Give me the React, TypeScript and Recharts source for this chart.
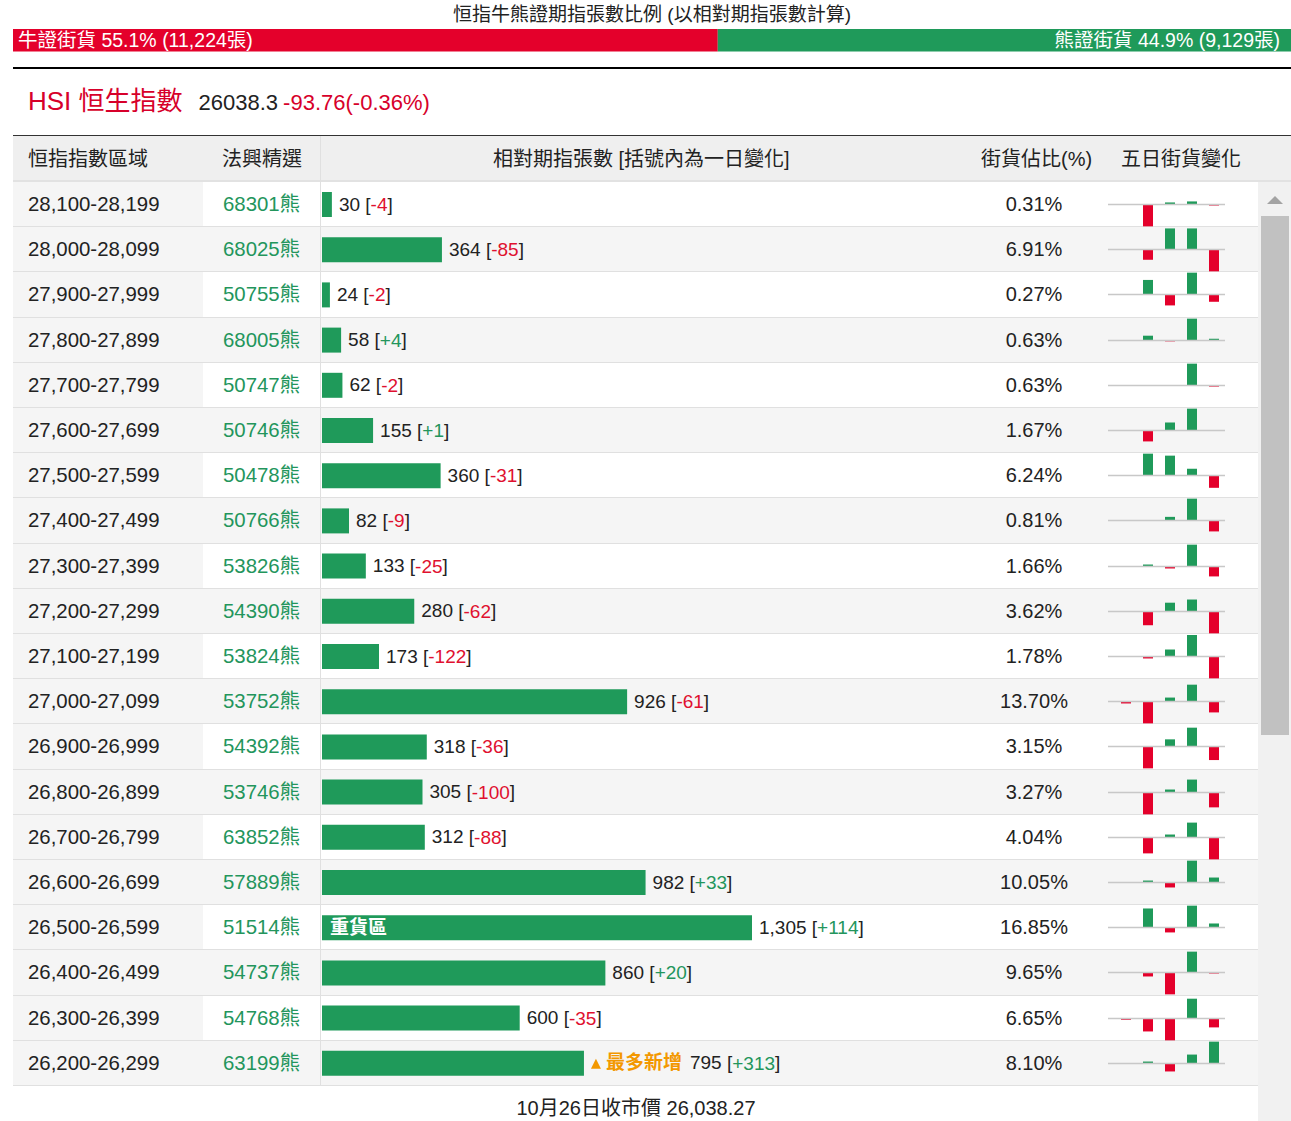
import React from "react";
import { BarChart, Bar, XAxis, YAxis, LabelList, Cell, ReferenceLine } from "recharts";

const ranges = [
  "28,100-28,199", "28,000-28,099", "27,900-27,999", "27,800-27,899", "27,700-27,799",
  "27,600-27,699", "27,500-27,599", "27,400-27,499", "27,300-27,399", "27,200-27,299",
  "27,100-27,199", "27,000-27,099", "26,900-26,999", "26,800-26,899", "26,700-26,799",
  "26,600-26,699", "26,500-26,599", "26,400-26,499", "26,300-26,399", "26,200-26,299",
];
const codes = [
  "68301", "68025", "50755", "68005", "50747", "50746", "50478", "50766", "53826", "54390",
  "53824", "53752", "54392", "53746", "63852", "57889", "51514", "54737", "54768", "63199",
];
const counts = [30, 364, 24, 58, 62, 155, 360, 82, 133, 280, 173, 926, 318, 305, 312, 982, 1305, 860, 600, 795];
const changes = [-4, -85, -2, 4, -2, 1, -31, -9, -25, -62, -122, -61, -36, -100, -88, 33, 114, 20, -35, 313];
const shares = ["0.31", "6.91", "0.27", "0.63", "0.63", "1.67", "6.24", "0.81", "1.66", "3.62", "1.78", "13.70", "3.15", "3.27", "4.04", "10.05", "16.85", "9.65", "6.65", "8.10"];
const dayLabels = ["D1", "D2", "D3", "D4", "D5"];
const fiveDay = [
  [0, -85, 8, 12, -4],
  [0, -40, 82, 82, -85],
  [0, 4, -3, 6, -2],
  [0, 11, -2, 50, 4],
  [0, 0, 0, 40, -2],
  [0, -30, 22, 60, 1],
  [0, 55, 50, 17, -31],
  [0, 0, 3, 18, -9],
  [0, 5, -5, 55, -25],
  [0, -39, 25, 34, -62],
  [0, -11, 39, 120, -122],
  [-11, -122, 22, 94, -61],
  [0, -58, 19, 50, -36],
  [0, -147, 20, 87, -100],
  [0, -64, 12, 60, -88],
  [0, 13, -33, 145, 33],
  [0, 540, -140, 620, 114],
  [0, -20, -110, 105, -5],
  [-5, -51, -86, 78, -35],
  [0, 28, -114, 128, 313],
];
const bullCount = 11224;
const bearCount = 9129;
const heavyIdx = 16;
const newestIdx = 19;

const RED = "#e4002b";
const GREEN = "#1f9a5a";
const RED_TXT = "#e0102f";
const GREEN_TXT = "#23955c";
const ORANGE = "#f39800";
const FONT = "'Liberation Sans', Arial, 'Noto Sans CJK TC', sans-serif";

const ROW_TOP = 182;
const ROW_H = 45.2;

const fmt = (n: number) => n.toLocaleString("en-US");

const renderBarLabel = (p: any) => {
  const i = Number(p.value);
  const x = Number(p.x);
  const y = Number(p.y);
  const w = Number(p.width);
  const h = Number(p.height);
  const cy = y + h / 2 - 0.5;
  const ch = changes[i];
  const chStr = (ch > 0 ? "+" : "") + ch;
  let tx = x + w + 7;
  const extra: React.ReactNode[] = [];
  if (i === heavyIdx) {
    extra.push(
      <text key="heavy" x={x + 8} y={cy} fill="#fff" fontSize={19} fontWeight={700} dominantBaseline="central">
        重貨區
      </text>
    );
  }
  if (i === newestIdx) {
    extra.push(
      <polygon key="tri" points={`${tx},${cy + 6} ${tx + 10},${cy + 6} ${tx + 5},${cy - 4}`} fill={ORANGE} />
    );
    extra.push(
      <text key="new" x={tx + 15} y={cy} fill={ORANGE} fontSize={19} fontWeight={700} dominantBaseline="central">
        最多新增
      </text>
    );
    tx += 99;
  }
  return (
    <g>
      {extra}
      <text x={tx} y={cy} fill="#222" fontSize={19} dominantBaseline="central">
        {fmt(counts[i])} [<tspan fill={ch > 0 ? GREEN_TXT : RED_TXT}>{chStr}</tspan>]
      </text>
    </g>
  );
};

const MiniChart = ({ values, top }: { values: number[]; top: number }) => {
  const data = values.map((v, k) => ({ day: dayLabels[k], v }));
  const m = Math.max(...values.map((v) => Math.abs(v))) * 1.03;
  return (
    <div style={{ position: "absolute", left: 1108, top, width: 117, height: 45 }}>
      <BarChart width={117} height={45} data={data} margin={{ top: 0, right: 0, bottom: 0, left: 0 }}>
        <XAxis dataKey="day" hide padding={{ left: 7, right: 0 }} />
        <YAxis hide domain={[-m, m]} />
        <ReferenceLine y={0} stroke="#c8c8c8" strokeWidth={1.5} />
        <Bar dataKey="v" barSize={10} isAnimationActive={false}>
          {data.map((d, k) => (
            <Cell key={k} fill={d.v >= 0 ? GREEN : RED} />
          ))}
        </Bar>
      </BarChart>
    </div>
  );
};

export default function App() {
  const total = bullCount + bearCount;
  const bullPct = ((bullCount / total) * 100).toFixed(1);
  const bearPct = ((bearCount / total) * 100).toFixed(1);
  const ratioData = [{ name: "ratio", bull: bullCount, bear: bearCount }];
  const rowData = counts.map((c, i) => ({ range: ranges[i], count: c, idx: i }));

  return (
    <div style={{ position: "absolute", left: 0, top: 0, width: 1291, height: 1121, background: "#fff", fontFamily: FONT, color: "#222", overflow: "hidden" }}>
      {/* title */}
      <div style={{ position: "absolute", left: 0, top: 4, width: 1304, textAlign: "center", fontSize: 19, lineHeight: "22px" }}>
        恒指牛熊證期指張數比例 (以相對期指張數計算)
      </div>

      {/* bull/bear ratio bar */}
      <div style={{ position: "absolute", left: 13, top: 28 }}>
        <BarChart layout="vertical" width={1278} height={25} data={ratioData} margin={{ top: 0, right: 0, bottom: 0, left: 0 }} barCategoryGap={0}>
          <XAxis type="number" hide domain={[0, total]} />
          <YAxis type="category" dataKey="name" hide />
          <Bar dataKey="bull" stackId="r" fill={RED} barSize={25} isAnimationActive={false}>
            <LabelList
              dataKey="bull"
              content={(p: any) => (
                <text x={Number(p.x) + 5} y={Number(p.y) + Number(p.height) / 2} fill="#fff" fontSize={19.5} dominantBaseline="central">
                  {`牛證街貨 ${bullPct}% (${fmt(bullCount)}張)`}
                </text>
              )}
            />
          </Bar>
          <Bar dataKey="bear" stackId="r" fill={GREEN} barSize={25} isAnimationActive={false}>
            <LabelList
              dataKey="bear"
              content={(p: any) => (
                <text x={Number(p.x) + Number(p.width) - 11} y={Number(p.y) + Number(p.height) / 2} fill="#fff" fontSize={19.5} textAnchor="end" dominantBaseline="central">
                  {`熊證街貨 ${bearPct}% (${fmt(bearCount)}張)`}
                </text>
              )}
            />
          </Bar>
        </BarChart>
      </div>

      {/* black rule */}
      <div style={{ position: "absolute", left: 13, top: 67, width: 1278, height: 2, background: "#000" }} />

      {/* HSI line */}
      <div style={{ position: "absolute", left: 28, top: 80, display: "flex", alignItems: "baseline", whiteSpace: "nowrap" }}>
        <span style={{ fontSize: 26, color: "#d7002a" }}>HSI 恒生指數</span>
        <span style={{ fontSize: 22, marginLeft: 16 }}>26038.3</span>
        <span style={{ fontSize: 22, marginLeft: 5, color: "#d7002a" }}>-93.76(-0.36%)</span>
      </div>

      {/* header */}
      <div style={{ position: "absolute", left: 13, top: 135, width: 1278, height: 1, background: "#333" }} />
      <div style={{ position: "absolute", left: 13, top: 136, width: 1278, height: 45, background: "#efefef" }} />
      <div style={{ position: "absolute", left: 13, top: 180, width: 1278, height: 2, background: "#e2e2e2" }} />
      {[
        { t: "恒指指數區域", l: 28 },
        { t: "法興精選", l: 222 },
        { t: "相對期指張數 [括號內為一日變化]", l: 493 },
        { t: "街貨佔比(%)", l: 981 },
        { t: "五日街貨變化", l: 1121 },
      ].map((h) => (
        <div key={h.t} style={{ position: "absolute", left: h.l, top: 135, height: 44, display: "flex", alignItems: "center", fontSize: 20, color: "#222", whiteSpace: "nowrap" }}>
          {h.t}
        </div>
      ))}

      {/* row backgrounds */}
      {ranges.map((r, i) => {
        const top = ROW_TOP + ROW_H * i;
        return (
          <React.Fragment key={r}>
            <div style={{ position: "absolute", left: 13, top, width: 1245, height: ROW_H, background: i % 2 === 1 ? "#f5f5f5" : "#fff" }} />
            <div style={{ position: "absolute", left: 13, top, width: 190, height: ROW_H, background: "#f5f5f5" }} />
            <div style={{ position: "absolute", left: 13, top: top + ROW_H - 1, width: 1245, height: 1, background: "#e0e0e0" }} />
          </React.Fragment>
        );
      })}
      <div style={{ position: "absolute", left: 320, top: 136, width: 1, height: 950, background: "#e0e0e0" }} />

      {/* row text */}
      {ranges.map((r, i) => {
        const top = ROW_TOP + ROW_H * i + 11;
        const cell = { position: "absolute" as const, top, height: 22, lineHeight: "22px", fontSize: 20.4, whiteSpace: "nowrap" as const };
        return (
          <React.Fragment key={"t" + r}>
            <div style={{ ...cell, left: 28 }}>{r}</div>
            <div style={{ ...cell, left: 223, color: GREEN_TXT }}>{codes[i]}熊</div>
            <div style={{ ...cell, left: 984, width: 100, textAlign: "center", fontSize: 20 }}>{shares[i]}%</div>
          </React.Fragment>
        );
      })}

      {/* main bars */}
      <div style={{ position: "absolute", left: 322, top: ROW_TOP }}>
        <BarChart layout="vertical" width={645} height={ROW_H * 20} data={rowData} margin={{ top: 0, right: 0, bottom: 0, left: 0 }}>
          <XAxis type="number" hide domain={[0, 1305 * 1.5]} />
          <YAxis type="category" dataKey="range" hide />
          <Bar dataKey="count" fill={GREEN} barSize={25} isAnimationActive={false}>
            <LabelList dataKey="idx" content={renderBarLabel} />
          </Bar>
        </BarChart>
      </div>

      {/* five-day mini charts */}
      {fiveDay.map((vals, i) => (
        <MiniChart key={"m" + i} values={vals} top={ROW_TOP + ROW_H * i} />
      ))}

      {/* scrollbar */}
      <div style={{ position: "absolute", left: 1258, top: 182, width: 33, height: 939, background: "#f1f1f1" }} />
      <div style={{ position: "absolute", left: 1261, top: 216, width: 28, height: 519, background: "#c1c1c1" }} />
      <div style={{ position: "absolute", left: 1267, top: 196, width: 0, height: 0, borderLeft: "8px solid transparent", borderRight: "8px solid transparent", borderBottom: "8px solid #a3a3a3" }} />

      {/* footer */}
      <div style={{ position: "absolute", left: 0, top: 1096, width: 1272, textAlign: "center", fontSize: 20, lineHeight: "24px" }}>
        10月26日收市價 26,038.27
      </div>
    </div>
  );
}
